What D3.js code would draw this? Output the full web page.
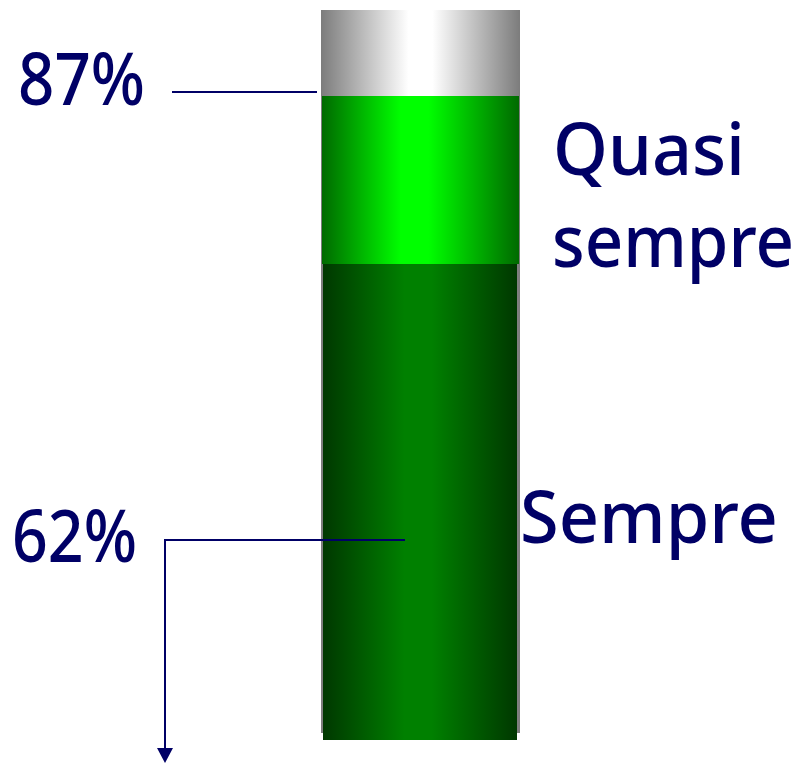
<!DOCTYPE html>
<html>
<head>
<meta charset="utf-8">
<script src="https://cdn.jsdelivr.net/npm/d3@7"></script>
<style>
  html, body { margin: 0; padding: 0; background: #fff; }
  svg { display: block; }
  text { font-family: "Noto Sans", "DejaVu Sans", sans-serif; fill: #000066; }
</style>
</head>
<body>
<svg></svg>
<script>
const width = 810;
const height = 763;

// data
const segNames = ["Sempre", "Quasi sempre", "Altro"];
const segStart = [0, 62, 87];
const segEnd = [62, 87, 100];
const pctLabels = ["62%", "87%"];
const pctValues = [62, 87];

const svg = d3.select("svg")
  .attr("width", width)
  .attr("height", height);

// the bar is not drawn to a linear scale in the original, so map breakpoints
const y = d3.scaleLinear()
  .domain([0, 62, 87, 100])
  .range([740, 264, 96, 10]);

const x = d3.scaleBand()
  .domain(["bar"])
  .range([321, 520]);

const navy = "#000066";

// cylinder-like gradients: linear ramp to a short bright band
const defs = svg.append("defs");
const grads = [
  { id: "g-dark", edge: "#003800", mid: "#008000", lo: 0.42, hi: 0.56 },
  { id: "g-light", edge: "#006a00", mid: "#00ff00", lo: 0.40, hi: 0.54 },
  { id: "g-gray", edge: "#7c7c7c", mid: "#ffffff", lo: 0.44, hi: 0.56 }
];
grads.forEach(g => {
  const lg = defs.append("linearGradient")
    .attr("id", g.id)
    .attr("x1", "0%").attr("x2", "100%")
    .attr("y1", "0%").attr("y2", "0%");
  lg.append("stop").attr("offset", 0).attr("stop-color", g.edge);
  lg.append("stop").attr("offset", g.lo).attr("stop-color", g.mid);
  lg.append("stop").attr("offset", g.hi).attr("stop-color", g.mid);
  lg.append("stop").attr("offset", 1).attr("stop-color", g.edge);
});

// gray background column (full 100%)
svg.append("rect")
  .attr("x", x("bar"))
  .attr("width", x.bandwidth())
  .attr("y", y(100))
  .attr("height", y(0) - 7 - y(100))
  .attr("fill", "url(#g-gray)");

// green segments
const segs = segNames.map((n, i) => ({ name: n, s: segStart[i], e: segEnd[i] }))
  .filter(d => d.name !== "Altro");
const segFill = { "Sempre": "url(#g-dark)", "Quasi sempre": "url(#g-light)" };
const segInset = { "Sempre": 2, "Quasi sempre": 1 };

svg.selectAll("rect.seg")
  .data(segs)
  .enter().append("rect")
  .attr("class", "seg")
  .attr("x", d => x("bar") + segInset[d.name])
  .attr("width", d => x.bandwidth() - 2 * segInset[d.name] - (d.name === "Sempre" ? 1 : 0))
  .attr("y", d => y(d.e))
  .attr("height", d => y(d.s) - y(d.e))
  .attr("fill", d => segFill[d.name]);

// 87% leader
svg.append("line")
  .attr("x1", 172).attr("x2", 317)
  .attr("y1", y(pctValues[1]) - 4).attr("y2", y(pctValues[1]) - 4)
  .attr("stroke", navy).attr("stroke-width", 2);

// 62% leader with arrow down
const ly = 540;
svg.append("path")
  .attr("d", `M405,${ly} H165 V750`)
  .attr("fill", "none")
  .attr("stroke", navy).attr("stroke-width", 2);
svg.append("path")
  .attr("d", "M157,748 L173,748 L165,763 Z")
  .attr("fill", navy);

// labels
const textItems = [
  { t: pctLabels[1], x: 18, y: 105, w: 127 },
  { t: pctLabels[0], x: 12, y: 562, w: 125 },
  { t: "Quasi", x: 553, y: 175, w: 192 },
  { t: "sempre", x: 552, y: 267, w: 242 },
  { t: segNames[0], x: 520, y: 543, w: 258 }
];

svg.selectAll("text.lbl")
  .data(textItems)
  .enter().append("text")
  .attr("class", "lbl")
  .attr("x", d => d.x)
  .attr("y", d => d.y)
  .attr("font-size", 72)
  .attr("font-weight", 500)
  .attr("textLength", d => d.w)
  .attr("lengthAdjust", "spacingAndGlyphs")
  .text(d => d.t);
</script>
</body>
</html>
